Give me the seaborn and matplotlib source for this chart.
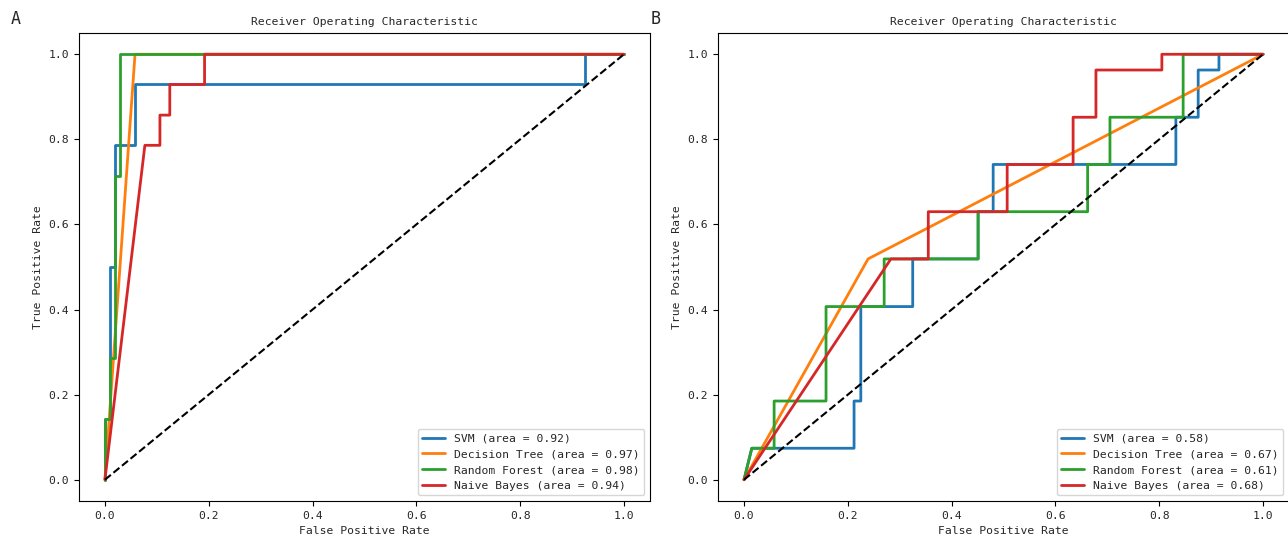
import numpy as np
import pandas as pd
import matplotlib
matplotlib.use("Agg")
import matplotlib.pyplot as plt
import seaborn as sns

# Panel A - ROC points
a_svm_fpr = [0, 0, 0.0096, 0.0096, 0.019, 0.019, 0.058, 0.058, 0.925, 0.925, 1]
a_svm_tpr = [0, 0.143, 0.143, 0.5, 0.5, 0.786, 0.786, 0.929, 0.929, 1, 1]
a_dt_fpr = [0, 0.058, 1]
a_dt_tpr = [0, 1, 1]
a_rf_fpr = [0, 0, 0.0096, 0.0096, 0.019, 0.019, 0.029, 0.029, 1]
a_rf_tpr = [0, 0.143, 0.143, 0.286, 0.286, 0.714, 0.714, 1, 1]
a_nb_fpr = [0, 0.077, 0.106, 0.106, 0.125, 0.125, 0.192, 0.192, 1]
a_nb_tpr = [0, 0.786, 0.786, 0.857, 0.857, 0.929, 0.929, 1, 1]
a_auc = [0.92, 0.97, 0.98, 0.94]

# Panel B
b_svm_fpr = [0, 0.015, 0.212, 0.212, 0.225, 0.225, 0.325, 0.325, 0.451, 0.451,
             0.48, 0.48, 0.832, 0.832, 0.875, 0.875, 0.915, 0.915, 1]
b_svm_tpr = [0, 0.074, 0.074, 0.185, 0.185, 0.407, 0.407, 0.519, 0.519, 0.63,
             0.63, 0.741, 0.741, 0.852, 0.852, 0.963, 0.963, 1, 1]
b_dt_fpr = [0, 0.239, 1]
b_dt_tpr = [0, 0.519, 1]
b_rf_fpr = [0, 0.015, 0.058, 0.058, 0.158, 0.158, 0.27, 0.27, 0.451, 0.451,
            0.662, 0.662, 0.705, 0.705, 0.846, 0.846, 1]
b_rf_tpr = [0, 0.074, 0.074, 0.185, 0.185, 0.407, 0.407, 0.519, 0.519, 0.63,
            0.63, 0.741, 0.741, 0.852, 0.852, 1, 1]
b_nb_fpr = [0, 0.283, 0.355, 0.355, 0.507, 0.507, 0.634, 0.634, 0.678, 0.678,
            0.805, 0.805, 1]
b_nb_tpr = [0, 0.519, 0.519, 0.63, 0.63, 0.741, 0.741, 0.852, 0.852, 0.963,
            0.963, 1, 1]
b_auc = [0.58, 0.67, 0.61, 0.68]

models = ["SVM", "Decision Tree", "Random Forest", "Naive Bayes"]
colors = ["#1f77b4", "#ff7f0e", "#2ca02c", "#d62728"]

FS = 8.2
sns.set_style("white")
plt.rcParams["font.family"] = ["DejaVu Sans Mono"]
plt.rcParams["font.size"] = FS
plt.rcParams["axes.edgecolor"] = "black"
plt.rcParams["xtick.bottom"] = True
plt.rcParams["ytick.left"] = True


def plot_roc(ax, curves, aucs):
    """Draws the ROC curves of one panel."""
    for name, (fpr, tpr), auc, c in zip(models, curves, aucs, colors):
        df = pd.DataFrame({"fpr": fpr, "tpr": tpr})
        sns.lineplot(data=df, x="fpr", y="tpr", ax=ax, sort=False, estimator=None,
                     color=c, lw=2, label=f"{name} (area = {auc:.2f})")
    ax.plot([0, 1], [0, 1], color="black", lw=1.5, linestyle="--")
    ax.set_xlabel("False Positive Rate", fontsize=FS)
    ax.set_ylabel("True Positive Rate", fontsize=FS)
    ax.set_title("Receiver Operating Characteristic", fontsize=FS)
    ax.set_xticks([0, 0.2, 0.4, 0.6, 0.8, 1.0])
    ax.set_yticks([0, 0.2, 0.4, 0.6, 0.8, 1.0])
    ax.tick_params(labelsize=FS, length=3.5, width=0.8, color="black")
    for s in ax.spines.values():
        s.set_linewidth(0.8)
    ax.legend(loc="lower right", fontsize=FS, frameon=True, edgecolor="#cccccc")


fig = plt.figure(figsize=(12.88, 5.4), dpi=100)
ax1 = fig.add_axes([0.0613, 0.0722, 0.4433, 0.8667])
ax2 = fig.add_axes([0.5575, 0.0722, 0.4433, 0.8667])

plot_roc(ax1, [(a_svm_fpr, a_svm_tpr), (a_dt_fpr, a_dt_tpr),
               (a_rf_fpr, a_rf_tpr), (a_nb_fpr, a_nb_tpr)], a_auc)
plot_roc(ax2, [(b_svm_fpr, b_svm_tpr), (b_dt_fpr, b_dt_tpr),
               (b_rf_fpr, b_rf_tpr), (b_nb_fpr, b_nb_tpr)], b_auc)

fig.text(0.008, 0.965, "A", fontsize=12, va="center")
fig.text(0.505, 0.965, "B", fontsize=12, va="center")

fig.savefig("out.png", dpi=100)
